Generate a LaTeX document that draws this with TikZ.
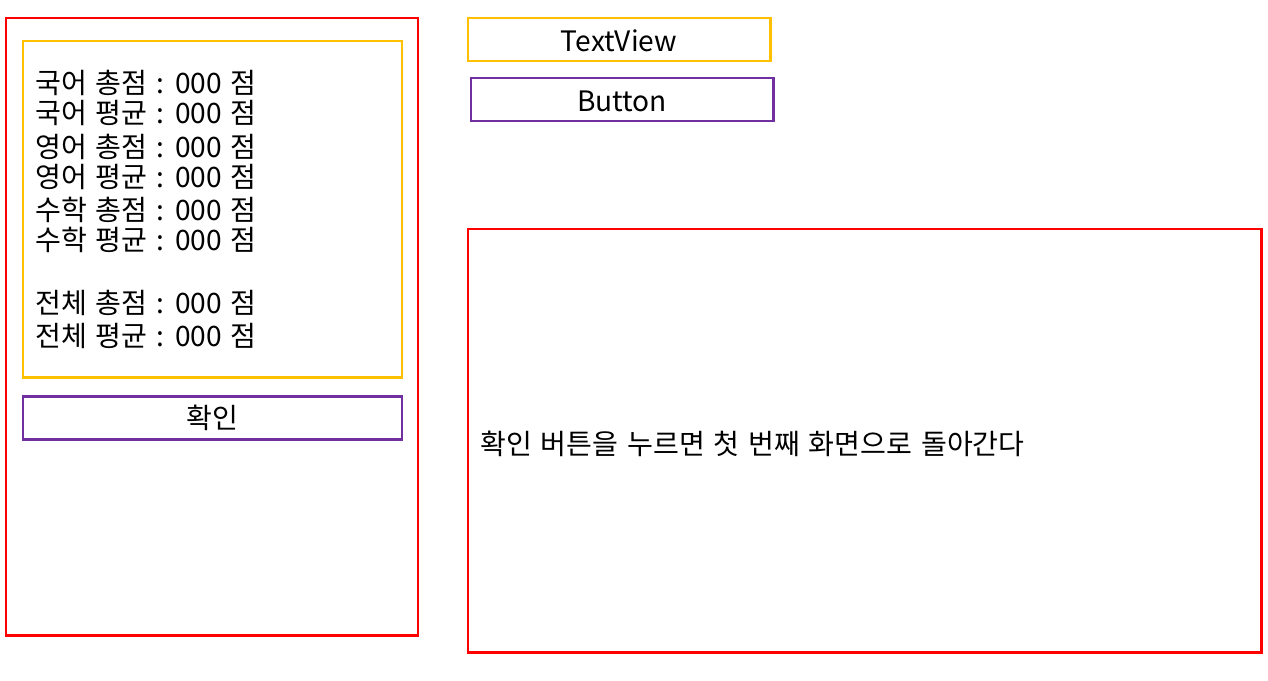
\documentclass[tikz,border=0pt]{standalone}
\usepackage{fontspec}
\setmainfont[WordSpace=1.4]{Noto Sans CJK KR}
\usetikzlibrary{positioning}
\definecolor{boxred}{HTML}{FF0000}
\definecolor{boxyellow}{HTML}{FFC000}
\definecolor{boxpurple}{HTML}{7030A0}

\begin{document}
\begin{tikzpicture}[x=0.02cm, y=-0.02cm,
  frame/.style={line width=1.7pt},
  txt/.style={font=\fontsize{16}{18}\selectfont, inner sep=0pt}]
  \useasboundingbox (0,0) rectangle (1268,680);

  % screen on the left
  \draw[frame, boxred] (6,18) rectangle (418,635);
  \draw[frame, boxyellow] (23,41) rectangle (402,377);
  \draw[frame, boxpurple] (23,396) rectangle (402,439);

  \foreach \y/\t [count=\i] in {83/국어 총점, 113/국어 평균, 147/영어 총점, 177/영어 평균,
      210/수학 총점, 240/수학 평균, 303/전체 총점, 336/전체 평균}
    \node[txt, anchor=west] (score\i) at (35,\y) {\t\ : 000 점};
  \node[txt] (ok) at (212,418) {확인};

  % legend
  \draw[frame, boxyellow] (468,18) rectangle (770,61);
  \node[txt] (tv) at (619,41) {TextView};
  \draw[frame, boxpurple] (471,78) rectangle (773,121);
  \node[txt] (btn) at (622,101) {Button};

  % note
  \draw[frame, boxred] (468,229) rectangle (1261,652);
  \node[txt, anchor=west] (note) at (480,444) {확인 버튼을 누르면 첫 번째 화면으로 돌아간다};
\end{tikzpicture}
\end{document}
